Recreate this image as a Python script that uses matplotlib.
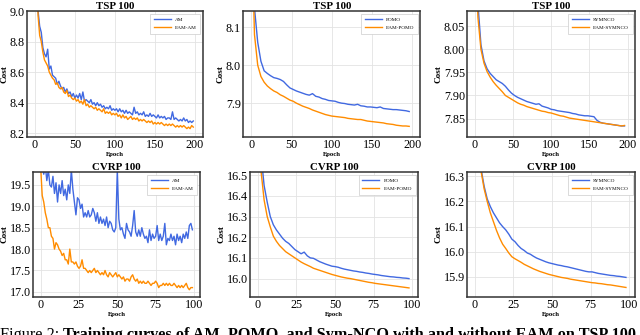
import numpy as np
import matplotlib.pyplot as plt

# ---- data ----
tsp_epochs_am = list(range(0, 200, 2))
tsp_am = [9.80, 9.50, 9.00, 8.90, 8.86, 8.76, 8.72, 8.70, 8.75, 8.62,
          8.64, 8.58, 8.57, 8.56, 8.52, 8.54, 8.51, 8.49, 8.50, 8.47,
          8.49, 8.46, 8.47, 8.44, 8.46, 8.43, 8.45, 8.43, 8.46, 8.42,
          8.47, 8.41, 8.42, 8.41, 8.40, 8.42, 8.39, 8.40, 8.38, 8.40,
          8.38, 8.39, 8.37, 8.38, 8.36, 8.37, 8.36, 8.38, 8.35, 8.36,
          8.35, 8.36, 8.34, 8.36, 8.34, 8.35, 8.33, 8.35, 8.33, 8.34,
          8.33, 8.32, 8.37, 8.33, 8.34, 8.32, 8.33, 8.32, 8.34, 8.31,
          8.32, 8.31, 8.33, 8.31, 8.32, 8.31, 8.30, 8.32, 8.30, 8.31,
          8.30, 8.31, 8.29, 8.30, 8.30, 8.29, 8.34, 8.29, 8.30, 8.29,
          8.28, 8.29, 8.28, 8.30, 8.28, 8.29, 8.27, 8.28, 8.27, 8.28]
tsp_eam_am = [9.75, 9.45, 8.97, 8.84, 8.80, 8.73, 8.68, 8.66, 8.64, 8.60,
              8.58, 8.56, 8.55, 8.52, 8.53, 8.50, 8.49, 8.50, 8.47, 8.46,
              8.48, 8.44, 8.45, 8.43, 8.42, 8.43, 8.41, 8.42, 8.40, 8.41,
              8.39, 8.42, 8.38, 8.39, 8.37, 8.38, 8.37, 8.36, 8.37, 8.35,
              8.36, 8.35, 8.34, 8.36, 8.33, 8.34, 8.33, 8.34, 8.32, 8.33,
              8.32, 8.33, 8.31, 8.32, 8.30, 8.32, 8.30, 8.31, 8.29, 8.30,
              8.31, 8.29, 8.30, 8.29, 8.30, 8.28, 8.29, 8.28, 8.29, 8.28,
              8.27, 8.28, 8.27, 8.28, 8.26, 8.27, 8.26, 8.27, 8.26, 8.27,
              8.26, 8.25, 8.26, 8.25, 8.26, 8.25, 8.26, 8.25, 8.24, 8.25,
              8.24, 8.25, 8.24, 8.25, 8.24, 8.23, 8.24, 8.23, 8.25, 8.24]

tsp_epochs = list(range(0, 200, 4))
tsp_pomo = [8.50, 8.15, 8.06, 8.01, 7.985, 7.978, 7.972, 7.967, 7.965, 7.962,
            7.957, 7.948, 7.940, 7.936, 7.932, 7.929, 7.926, 7.923, 7.921, 7.925,
            7.918, 7.916, 7.912, 7.910, 7.907, 7.906, 7.905, 7.902, 7.900, 7.899,
            7.897, 7.896, 7.895, 7.897, 7.893, 7.892, 7.890, 7.890, 7.889, 7.888,
            7.890, 7.886, 7.885, 7.884, 7.883, 7.883, 7.882, 7.881, 7.880, 7.878]
tsp_eam_pomo = [8.40, 8.08, 8.00, 7.970, 7.955, 7.945, 7.938, 7.932, 7.928, 7.922,
                7.918, 7.913, 7.908, 7.905, 7.900, 7.896, 7.892, 7.889, 7.886, 7.882,
                7.879, 7.876, 7.873, 7.870, 7.868, 7.866, 7.865, 7.864, 7.863, 7.862,
                7.860, 7.859, 7.858, 7.857, 7.857, 7.855, 7.853, 7.852, 7.851, 7.850,
                7.849, 7.848, 7.846, 7.845, 7.844, 7.842, 7.841, 7.840, 7.840, 7.839]
tsp_sym = [8.35, 8.10, 8.01, 7.975, 7.958, 7.948, 7.941, 7.934, 7.930, 7.926,
           7.920, 7.912, 7.905, 7.900, 7.896, 7.893, 7.890, 7.887, 7.885, 7.883,
           7.881, 7.882, 7.877, 7.875, 7.873, 7.870, 7.869, 7.867, 7.866, 7.865,
           7.864, 7.863, 7.861, 7.860, 7.858, 7.857, 7.856, 7.856, 7.855, 7.854,
           7.846, 7.842, 7.840, 7.839, 7.838, 7.837, 7.836, 7.835, 7.834, 7.834]
tsp_eam_sym = [8.30, 8.07, 8.00, 7.970, 7.952, 7.940, 7.930, 7.922, 7.915, 7.908,
               7.900, 7.896, 7.892, 7.888, 7.884, 7.881, 7.879, 7.876, 7.874, 7.872,
               7.870, 7.868, 7.866, 7.865, 7.863, 7.862, 7.860, 7.858, 7.856, 7.855,
               7.853, 7.851, 7.850, 7.849, 7.848, 7.847, 7.846, 7.845, 7.844, 7.843,
               7.842, 7.841, 7.840, 7.839, 7.838, 7.837, 7.836, 7.835, 7.834, 7.835]

cvrp_epochs_am = list(range(100))
cvrp_am = [20.5, 19.9, 19.75, 19.95, 19.6, 19.85, 19.5, 19.45, 19.7, 19.3,
           19.55, 19.1, 19.5, 19.3, 19.6, 19.25, 19.4, 19.15, 19.5, 19.3,
           19.85, 19.4, 19.1, 18.8, 19.2, 19.15, 18.95, 19.05, 18.75, 18.85,
           18.75, 18.9, 18.75, 18.8, 18.95, 18.85, 18.65, 18.85, 18.6, 18.75,
           18.6, 18.7, 18.55, 18.75, 18.5, 18.65, 18.6, 18.45, 18.4, 18.5,
           19.85, 18.7, 18.45, 18.5, 18.35, 18.25, 18.6, 18.45, 18.4, 18.3,
           18.55, 18.9, 18.4, 18.3, 18.45, 18.3, 18.5, 18.35, 18.25, 18.3,
           18.15, 18.45, 18.2, 18.35, 18.25, 18.3, 18.55, 18.2, 18.35, 18.2,
           18.3, 18.6, 18.1, 18.25, 18.2, 18.35, 18.2, 18.3, 18.1, 18.35,
           18.2, 18.3, 18.15, 18.35, 18.25, 18.4, 18.25, 18.55, 18.6, 18.45]
cvrp_eam_am = [19.9, 19.25, 19.1, 18.85, 18.7, 18.5, 18.5, 18.3, 18.25, 18.0,
               18.15, 18.1, 18.0, 17.95, 17.85, 17.9, 17.75, 17.75, 17.65, 18.0,
               17.7, 17.7, 17.65, 17.7, 17.6, 17.55, 17.6, 17.75, 17.55, 17.55,
               17.5, 17.45, 17.5, 17.45, 17.5, 17.55, 17.45, 17.5, 17.45, 17.4,
               17.45, 17.4, 17.5, 17.4, 17.35, 17.45, 17.4, 17.35, 17.4, 17.45,
               17.35, 17.4, 17.35, 17.3, 17.35, 17.25, 17.3, 17.3, 17.25, 17.35,
               17.4, 17.3, 17.25, 17.3, 17.2, 17.25, 17.2, 17.25, 17.2, 17.2,
               17.25, 17.2, 17.15, 17.2, 17.2, 17.25, 17.2, 17.1, 17.15, 17.15,
               17.2, 17.15, 17.2, 17.15, 17.2, 17.15, 17.15, 17.2, 17.15, 17.1,
               17.15, 17.1, 17.15, 17.1, 17.15, 17.2, 17.1, 17.05, 17.1, 17.1]

cvrp_epochs = list(range(0, 100, 2))
cvrp_pomo = [17.0, 16.6, 16.45, 16.37, 16.30, 16.26, 16.235, 16.215, 16.195, 16.18,
             16.17, 16.155, 16.14, 16.13, 16.12, 16.128, 16.11, 16.10, 16.098, 16.09,
             16.082, 16.076, 16.07, 16.065, 16.06, 16.058, 16.055, 16.05, 16.046, 16.043,
             16.04, 16.037, 16.035, 16.032, 16.03, 16.027, 16.025, 16.022, 16.02, 16.018,
             16.015, 16.013, 16.011, 16.009, 16.008, 16.006, 16.005, 16.003, 16.002, 16.0]
cvrp_eam_pomo = [16.9, 16.52, 16.38, 16.30, 16.25, 16.205, 16.18, 16.16, 16.145, 16.13,
                 16.12, 16.11, 16.10, 16.09, 16.08, 16.072, 16.065, 16.058, 16.05, 16.045,
                 16.04, 16.035, 16.03, 16.025, 16.02, 16.016, 16.012, 16.008, 16.005, 16.002,
                 16.0, 15.997, 15.994, 15.991, 15.988, 15.985, 15.982, 15.98, 15.977, 15.975,
                 15.973, 15.971, 15.969, 15.967, 15.965, 15.963, 15.961, 15.959, 15.957, 15.955]
cvrp_sym = [16.8, 16.5, 16.33, 16.26, 16.21, 16.18, 16.155, 16.135, 16.115, 16.10,
            16.087, 16.07, 16.05, 16.04, 16.025, 16.013, 16.005, 15.995, 15.99, 15.982,
            15.975, 15.97, 15.965, 15.96, 15.956, 15.953, 15.95, 15.947, 15.945, 15.942,
            15.94, 15.937, 15.934, 15.931, 15.928, 15.925, 15.922, 15.92, 15.92, 15.917,
            15.914, 15.912, 15.91, 15.908, 15.906, 15.905, 15.903, 15.902, 15.9, 15.898]
cvrp_eam_sym = [16.75, 16.45, 16.32, 16.25, 16.20, 16.155, 16.12, 16.085, 16.055, 16.03,
                16.013, 15.995, 15.98, 15.972, 15.965, 15.958, 15.95, 15.944, 15.938, 15.932,
                15.927, 15.922, 15.918, 15.914, 15.91, 15.907, 15.904, 15.901, 15.898, 15.896,
                15.894, 15.891, 15.889, 15.887, 15.885, 15.883, 15.881, 15.879, 15.877, 15.876,
                15.874, 15.873, 15.871, 15.869, 15.868, 15.866, 15.864, 15.862, 15.86, 15.858]

BLUE = '#4169e1'
ORANGE = '#ff8c00'

plt.rcParams['font.family'] = ['Liberation Serif', 'DejaVu Serif']

fig = plt.figure(figsize=(6.4, 3.35), dpi=100)

# (left, bottom, width, height) in figure fractions
boxes = [
    (0.042, 0.591, 0.275, 0.376),
    (0.380, 0.591, 0.277, 0.376),
    (0.730, 0.591, 0.2625, 0.376),
    (0.0516, 0.1134, 0.261, 0.373),
    (0.391, 0.1134, 0.2625, 0.373),
    (0.730, 0.1134, 0.2625, 0.373),
]

panels = [
    ('TSP 100', tsp_epochs_am, tsp_am, tsp_eam_am, 'AM', (8.175, 9.0), [8.2, 8.4, 8.6, 8.8, 9.0], '%.1f', [0, 50, 100, 150, 200], (-10, 210)),
    ('TSP 100', tsp_epochs, tsp_pomo, tsp_eam_pomo, 'POMO', (7.811, 8.142), [7.9, 8.0, 8.1], '%.1f', [0, 50, 100, 150, 200], (-10, 210)),
    ('TSP 100', tsp_epochs, tsp_sym, tsp_eam_sym, 'SYMNCO', (7.81, 8.083), [7.85, 7.90, 7.95, 8.00, 8.05], '%.2f', [0, 50, 100, 150, 200], (-10, 210)),
    ('CVRP 100', cvrp_epochs_am, cvrp_am, cvrp_eam_am, 'AM', (16.88, 19.8), [17.0, 17.5, 18.0, 18.5, 19.0, 19.5], '%.1f', [0, 25, 50, 75, 100], (-5, 104)),
    ('CVRP 100', cvrp_epochs, cvrp_pomo, cvrp_eam_pomo, 'POMO', (15.911, 16.515), [16.0, 16.1, 16.2, 16.3, 16.4, 16.5], '%.1f', [0, 25, 50, 75, 100], (-5, 104)),
    ('CVRP 100', cvrp_epochs, cvrp_sym, cvrp_eam_sym, 'SYMNCO', (15.82, 16.317), [15.9, 16.0, 16.1, 16.2, 16.3], '%.1f', [0, 25, 50, 75, 100], (-5, 104)),
]

for box, (title, ep, base, eam, name, ylim, yt, fmt, xt, xlim) in zip(boxes, panels):
    ax = fig.add_axes(box)
    ax.plot(ep, base, color=BLUE, lw=1.0, label=name)
    ax.plot(ep, eam, color=ORANGE, lw=1.0, label='EAM-' + name)
    ax.set_ylim(*ylim)
    ax.set_xlim(*xlim)
    ax.set_yticks(yt)
    ax.set_yticklabels([fmt % v for v in yt])
    ax.set_xticks(xt)
    ax.grid(True, color='#e3e3e3', lw=0.6)
    ax.set_axisbelow(True)
    for s in ax.spines.values():
        s.set_color('#333333')
        s.set_linewidth(1.1)
    ax.tick_params(length=0, pad=1.5, labelsize=8.7)
    ax.set_title(title, fontsize=7.8, fontweight='bold', pad=1.2)
    ax.set_xlabel('Epoch', fontsize=4.8, fontweight='bold', labelpad=1)
    ax.set_ylabel('Cost', fontsize=6.6, fontweight='bold', labelpad=1)
    leg = ax.legend(loc='upper right', fontsize=3.8, handlelength=3.2, borderpad=0.7,
                    labelspacing=0.6, fancybox=False, framealpha=1)
    leg.get_frame().set_edgecolor('#cccccc')
    leg.get_frame().set_linewidth(0.5)

# caption, mostly cut off by the bottom edge like in the reference
cap_y = -0.011
cap1 = fig.text(0.0, cap_y, 'Figure 2: ', fontsize=11.7, va='baseline', ha='left')
fig.canvas.draw()
bb = cap1.get_window_extent()
x2 = bb.x1 / fig.bbox.width
fig.text(x2, cap_y, 'Training curves of AM, POMO, and Sym-NCO with and without EAM on TSP 100',
         fontsize=11.7, fontweight='bold', va='baseline', ha='left')

fig.savefig('out.png', dpi=100)
